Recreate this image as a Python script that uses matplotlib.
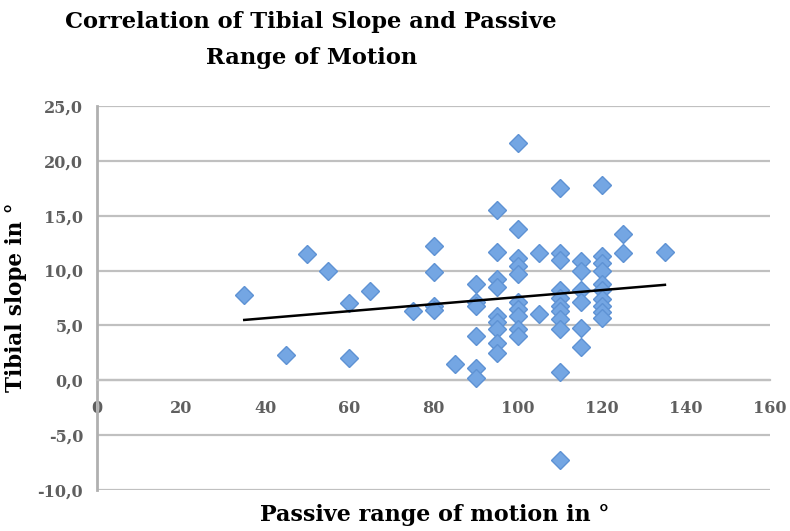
import numpy as np
import matplotlib
matplotlib.use("Agg")
import matplotlib.pyplot as plt

# ----------------------------------------
# Data
# ----------------------------------------
rom = [35, 45, 50, 55, 60, 60, 65,
       75, 80, 80, 80, 80, 85,
       90, 90, 90, 90, 90, 90,
       95, 95, 95, 95, 95, 95, 95, 95, 95,
       100, 100, 100, 100, 100, 100, 100, 100, 100, 100,
       105, 105,
       110, 110, 110, 110, 110, 110, 110, 110, 110, 110, 110,
       115, 115, 115, 115, 115, 115,
       120, 120, 120, 120, 120, 120, 120, 120, 120, 120,
       125, 125, 135]
slope = [7.8, 2.3, 11.5, 10.0, 7.0, 2.0, 8.1,
         6.3, 12.2, 9.9, 6.8, 6.4, 1.5,
         8.8, 7.1, 6.8, 4.0, 1.1, 0.2,
         15.5, 11.7, 9.2, 8.5, 5.9, 5.3, 4.7, 3.4, 2.5,
         21.6, 13.8, 11.1, 10.4, 9.7, 7.1, 6.5, 5.9, 4.7, 4.0,
         11.6, 6.0,
         17.5, 11.6, 11.0, 8.2, 7.5, 6.8, 6.3, 5.6, 4.7, 0.8, -7.3,
         10.9, 10.0, 8.2, 7.1, 4.8, 3.0,
         17.8, 11.3, 10.7, 10.0, 8.8, 8.2, 7.4, 6.8, 6.2, 5.7,
         13.3, 11.6, 11.7]

# linear trend line end points
trend_x = [35, 135]
trend_y = [5.5, 8.7]

x_ticks = [0, 20, 40, 60, 80, 100, 120, 140, 160]
y_ticks = [-10, -5, 0, 5, 10, 15, 20, 25]

# ----------------------------------------
# Plot
# ----------------------------------------
fig = plt.figure(figsize=(7.9, 5.31), dpi=100)
ax = fig.add_axes([0.1228, 0.0772, 0.852, 0.7232])

serif = ["DejaVu Serif"]
grey = "#5f5f5f"

ax.set_xlim(0, 160)
ax.set_ylim(-10, 25)

ax.grid(axis="y", color="#c0c0c0", linewidth=1.6)
ax.set_axisbelow(True)
for side in ["top", "right"]:
    ax.spines[side].set_visible(False)
ax.spines["bottom"].set_position(("data", 0))
ax.spines["bottom"].set_color("#c0c0c0")
ax.spines["bottom"].set_linewidth(1.6)
ax.spines["left"].set_color("#b0b0b0")
ax.spines["left"].set_linewidth(2)

ax.set_yticks(y_ticks)
ax.set_yticklabels([f"{v:.1f}".replace(".", ",") for v in y_ticks])
ax.set_xticks(x_ticks)
ax.set_xticklabels([str(v) for v in x_ticks])
for lbl in ax.get_xticklabels() + ax.get_yticklabels():
    lbl.set_family(serif)
    lbl.set_fontweight("bold")
    lbl.set_fontsize(11.5)
    lbl.set_color(grey)
ax.tick_params(axis="y", length=0, pad=10)
ax.tick_params(axis="x", length=0, pad=14)

ax.plot(rom, slope, linestyle="none", marker="D", markersize=9,
        markerfacecolor="#74a6e3", markeredgecolor="#5e92d4",
        markeredgewidth=1, zorder=3)
ax.plot(trend_x, trend_y, color="black", linewidth=1.8, zorder=4)

fig.text(0.394, 0.925, "Correlation of Tibial Slope and Passive\nRange of Motion",
         ha="center", va="center", family=serif, fontweight="bold",
         fontsize=16.3, linespacing=1.85)
fig.text(0.02, 0.44, "Tibial slope in °", rotation=90, ha="center", va="center",
         family=serif, fontweight="bold", fontsize=15.5)
fig.text(0.55, 0.03, "Passive range of motion in °", ha="center", va="center",
         family=serif, fontweight="bold", fontsize=16)

plt.savefig("out.png", dpi=100)
